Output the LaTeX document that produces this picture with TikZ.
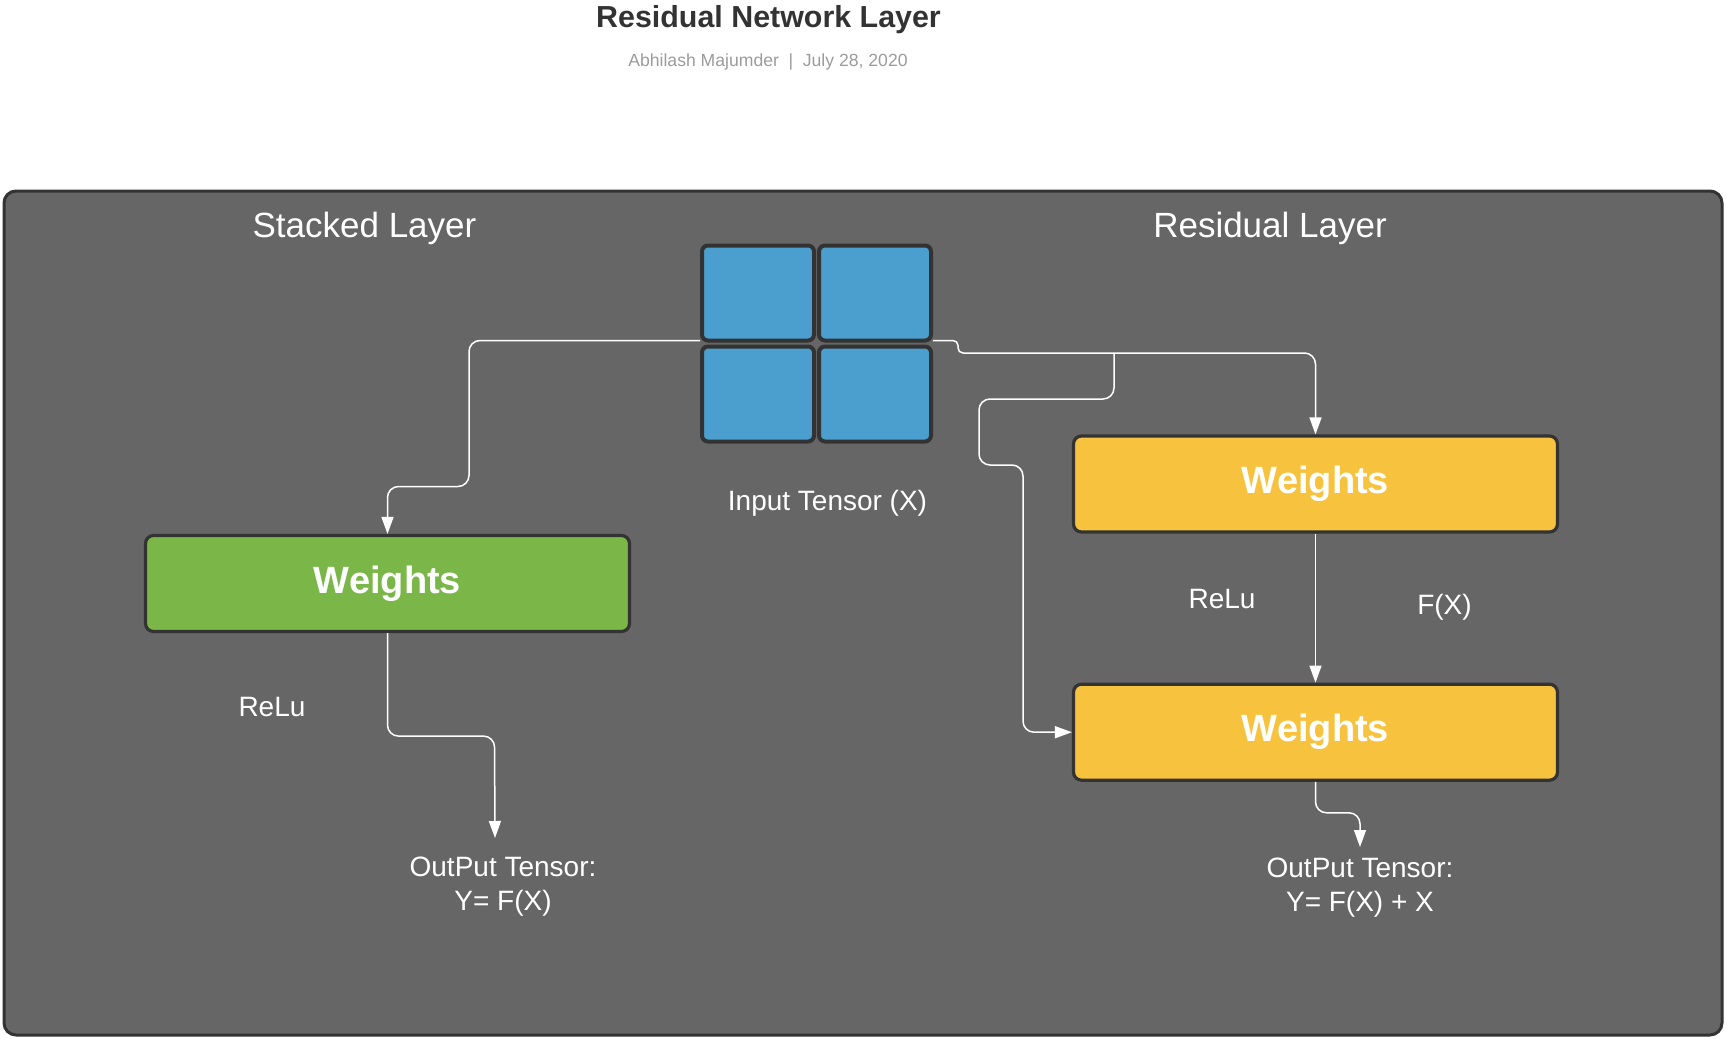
\documentclass[tikz,border=0pt]{standalone}
\usepackage{fontspec}
\setmainfont{Liberation Sans}
\usepackage{xcolor}
\usetikzlibrary{arrows.meta, positioning}

\definecolor{panelgray}{HTML}{666666}
\definecolor{edgegray}{HTML}{333333}
\definecolor{titlegray}{HTML}{333333}
\definecolor{subgray}{HTML}{9B9B9B}
\definecolor{tensorblue}{HTML}{4A9FCF}
\definecolor{stackgreen}{HTML}{7AB648}
\definecolor{resyellow}{HTML}{F7C23D}

\begin{document}
\begin{tikzpicture}[
    x=0.5pt, y=-0.5pt,
    cell/.style={draw=edgegray, line width=2pt, rounded corners=3pt,
                 fill=tensorblue, minimum width=56pt, minimum height=47.5pt,
                 inner sep=0pt},
    weights/.style={draw=edgegray, line width=1.6pt, rounded corners=4pt,
                    minimum width=242pt, minimum height=48pt, inner sep=0pt,
                    font=\fontsize{19}{23}\selectfont\bfseries, text=white},
    heading/.style={text=white, font=\fontsize{17.5}{21}\selectfont,
                    inner sep=0pt, anchor=base},
    note/.style={text=white, font=\fontsize{14}{17}\selectfont,
                 inner sep=0pt, anchor=base},
    result/.style={text=white, font=\fontsize{14}{17}\selectfont,
                   align=center, inner sep=0pt, anchor=base},
    arr/.style={-{Triangle[length=8.5pt, width=6pt]}, line width=0.75pt,
                draw=white, rounded corners=5.5pt},
]
    \useasboundingbox (0,0) rectangle (1726,1039);

    % Title
    \node[font=\fontsize{15.2}{18}\selectfont\bfseries, text=titlegray,
          inner sep=0pt, anchor=base] (title) at (768.5,27) {Residual Network Layer};
    \node[font=\fontsize{8.8}{11}\selectfont, text=subgray, inner sep=0pt,
          anchor=base] (sub) at (768,66)
          {Abhilash Majumder\hspace{0.55em}|\hspace{0.55em}July 28, 2020};

    % Panel
    \draw[draw=edgegray, fill=panelgray, line width=1.5pt, rounded corners=6pt]
        (4,191) rectangle (1722,1035);

    % Headings
    \node[heading] (stacked) at (364.5,237) {Stacked Layer};
    \node[heading] (residual) at (1270,237) {Residual Layer};

    % Input tensor
    \node[cell] (tl) at (758,293) {};
    \node[cell] (tr) at (875,293) {};
    \node[cell] (bl) at (758,394) {};
    \node[cell] (br) at (875,394) {};
    \node[note] (input) at (827.5,510) {Input Tensor (X)};

    % Stacked layer
    \node[weights, fill=stackgreen] (wg) at (387.5,583.5) {Weights};
    \node[note] (relul) at (272,716) {ReLu};
    \node[result] (outl) at (503,910) {OutPut Tensor:\\Y= F(X)};

    % Residual layer
    \node[weights, fill=resyellow] (wr1) at (1315.5,484) {Weights};
    \node[weights, fill=resyellow, below=74.5pt of wr1] (wr2) {Weights};
    \node[note] (relur) at (1222,608) {ReLu};
    \node[note] (fx) at (1444.5,614) {F(X)};
    \node[result] (outr) at (1360,911) {OutPut Tensor:\\Y= F(X) + X};

    % Arrows
    \coordinate (split) at (1114,353);
    \draw[arr] ([yshift=1pt]tl.south west) -| ++(-231,146) -| (wg.north);
    \draw[arr] ([yshift=1pt]tr.south east) [rounded corners=2.5pt] -- ++(25,0) |- (split)
        [rounded corners=5.5pt] -| (wr1.north);
    \draw[arr] (split) |- ++(-135,46) |- ++(44,66) |- (wr2.west);
    \draw[arr] (wr1.south) -- (wr2.north);
    \draw[arr] (wg.south) |- ++(107,103) -- ([shift={(-8,-72)}]outl.base);
    \draw[arr] (wr2.south) -- ++(0,31) -| ([shift={(0,-64)}]outr.base);
\end{tikzpicture}
\end{document}
